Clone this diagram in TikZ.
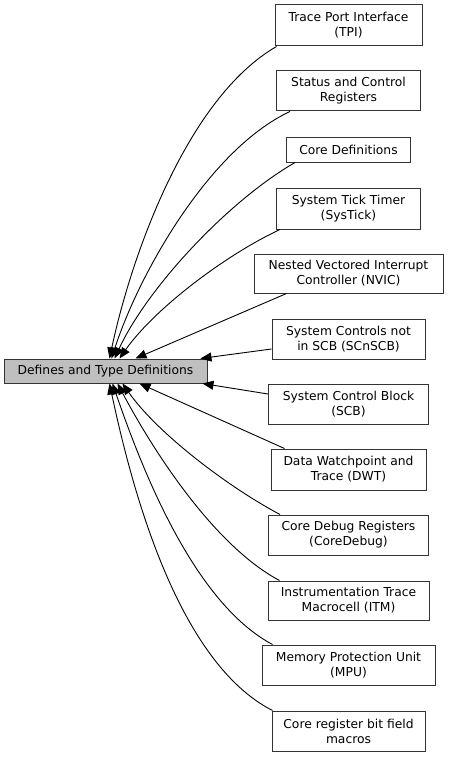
\documentclass[tikz,border=0pt]{standalone}
\usepackage{fontspec}
\setmainfont{DejaVu Sans}
\usetikzlibrary{arrows.meta}
\tikzset{
  grp/.style={draw=black!80, line width=1pt, align=center, inner sep=2pt,
    font=\fontsize{12.3}{15}\selectfont},
  edge/.style={draw=black, line width=0.9pt, -{Triangle[length=11pt,width=9pt]}},
}
\begin{document}
\begin{tikzpicture}[x=1pt,y=1pt]
\useasboundingbox (0,0) rectangle (448,-757);
% group being documented
\node[grp, fill=black!25, minimum width=203pt, minimum height=24pt] (main) at (105.5,-371) {Defines and Type Definitions};
% member groups, top to bottom
\foreach \nm/\yy/\ww/\hh/\txt in {
  tpi/25.5/147/41/{Trace Port Interface\\(TPI)},
  scr/91/144/40/{Status and Control\\Registers},
  coredef/149.5/124/25/{Core Definitions},
  systick/208.5/144/41/{System Tick Timer\\(SysTick)},
  nvic/273.5/189/39/{Nested Vectored Interrupt\\Controller (NVIC)},
  scnscb/339/153/40/{System Controls not\\in SCB (SCnSCB)},
  scb/404/160/40/{System Control Block\\(SCB)},
  dwt/469.5/155/41/{Data Watchpoint and\\Trace (DWT)},
  coredebug/535/160/40/{Core Debug Registers\\(CoreDebug)},
  itm/600.5/161/39/{Instrumentation Trace\\Macrocell (ITM)},
  mpu/665/173/40/{Memory Protection Unit\\(MPU)},
  bitfield/731/153/40/{Core register bit field\\macros}}
  \node[grp, minimum width=\ww pt, minimum height=\hh pt] (\nm) at (348.5,-\yy) {\txt};
% curved edges into the top of the main box
\foreach \src/\sx/\tx/\o/\i in {tpi/2/106/210/78, scr/14/108/205/72,
    coredef/9/111/210/65, systick/4/116/205/55}
  \draw[edge] ([xshift=\sx pt]\src.south west) to[out=\o, in=\i, looseness=0.75]
    ([xshift=\tx pt]main.north west);
% curved edges into the bottom of the main box
\foreach \src/\sx/\tx/\o/\i in {coredebug/12/119/152/305, itm/12/114/152/298,
    mpu/11/109/152/289, bitfield/1/106/153/282}
  \draw[edge] ([xshift=\sx pt]\src.north west) to[out=\o, in=\i, looseness=0.75]
    ([xshift=\tx pt]main.south west);
% straight edges
\draw[edge] ([xshift=33pt]nvic.south west) -- ([xshift=132pt]main.north west);
\draw[edge] ([yshift=-10pt]scnscb.west) -- ([xshift=197pt]main.north west);
\draw[edge] ([yshift=10pt]scb.west) -- ([xshift=199pt]main.south west);
\draw[edge] ([xshift=14pt]dwt.north west) -- ([xshift=136pt]main.south west);
\end{tikzpicture}
\end{document}
